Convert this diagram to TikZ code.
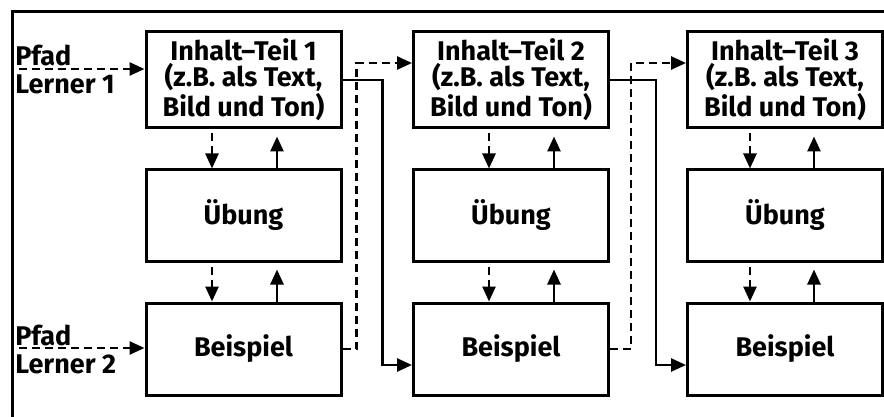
\documentclass[tikz,border=0pt]{standalone}
\usepackage{fontspec}
\setmainfont{Fira Sans}
\usetikzlibrary{arrows.meta}
\tikzset{
  box/.style={draw, line width=1.5pt, minimum width=97.5pt, inner sep=0pt, align=center,
    font=\fontsize{13.5}{13}\selectfont\bfseries},
  tbox/.style={box, minimum height=48pt},
  ubox/.style={box, minimum height=45.5pt},
  ebox/.style={box, minimum height=46pt},
  lbl/.style={inner sep=0pt, align=left, font=\fontsize{13.5}{13.5}\selectfont\bfseries},
  tip/.style={-{Triangle[length=7.5pt,width=6.5pt]}},
  dsh/.style={tip, line width=1.3pt, dash pattern=on 4pt off 2.5pt},
  sol/.style={tip, line width=1.3pt},
  frame/.style={line width=1.5pt}
}
\begin{document}
\begin{tikzpicture}[x=0.5pt,y=-0.5pt]
\useasboundingbox (0,0) rectangle (884,417);
\draw[frame] (12,417) -- (12,12) -- (884,12);
% boxes
\node[tbox] (t1) at (243.5,80) {Inhalt–Teil 1\\(z.B. als Text,\\Bild und Ton)};
\node[tbox] (t2) at (511,80) {Inhalt–Teil 2\\(z.B. als Text,\\Bild und Ton)};
\node[tbox] (t3) at (785,80) {Inhalt–Teil 3\\(z.B. als Text,\\Bild und Ton)};
\node[ubox] (u1) at (243.5,215.5) {Übung};
\node[ubox] (u2) at (511,215.5) {Übung};
\node[ubox] (u3) at (785,215.5) {Übung};
\node[ebox] (e1) at (243.5,349) {Beispiel};
\node[ebox] (e2) at (511,349) {Beispiel};
\node[ebox] (e3) at (785,349) {Beispiel};
% labels
\node[lbl, anchor=north west] (p1) at (15,45) {Pfad\\[0.5pt]Lerner 1};
\node[lbl, anchor=north west] (p2) at (15,325) {Pfad\\[0.5pt]Lerner 2};
\coordinate (s1) at (19,69);
\coordinate (s2) at (19,348);
\draw[dsh] (s1) -- (s1 -| t1.west);
\draw[dsh] (s2) -- (s2 -| e1.west);
% vertical arrows
\foreach \n/\d/\u in {1/-15.75pt/16.75pt, 2/-11pt/21.5pt, 3/-17.5pt/14.5pt}{
  \draw[dsh, shorten <=2pt] ([xshift=\d]t\n.south) -- ([xshift=\d]u\n.north);
  \draw[sol, shorten >=3.5pt] ([xshift=\u]u\n.north) -- ([xshift=\u]t\n.south);
  \draw[dsh, shorten <=2pt] ([xshift=\d]u\n.south) -- ([xshift=\d]e\n.north);
  \draw[sol, shorten >=3.5pt] ([xshift=\u]e\n.north) -- ([xshift=\u]u\n.south);
}
% cross connectors
\draw[sol] (t1.east) -- ++(40,0) |- ([yshift=-8pt]e2.west);
\draw[dsh] (e1.east) -- ++(14,0) |- ([yshift=8.5pt]t2.west);
\draw[sol] (t2.east) -- ++(46,0) |- ([yshift=-8pt]e3.west);
\draw[dsh] (e2.east) -- ++(21,0) |- ([yshift=8.5pt]t3.west);
\end{tikzpicture}
\end{document}
